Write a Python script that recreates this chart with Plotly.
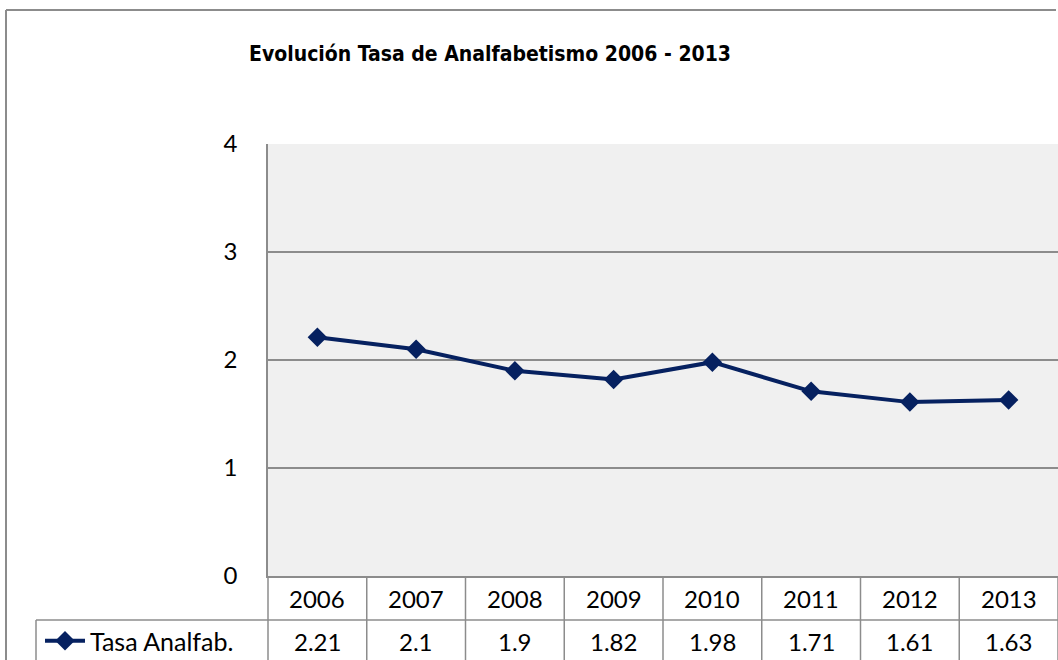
import plotly.graph_objects as go

# ---- data ----
years = ["2006", "2007", "2008", "2009", "2010", "2011", "2012", "2013"]
tasa = [2.21, 2.1, 1.9, 1.82, 1.98, 1.71, 1.61, 1.63]
series_name = "Tasa Analfab."
title_text = "<b>Evolución Tasa de Analfabetismo 2006 - 2013</b>"
y_ticks = [0, 1, 2, 3, 4]

W, H = 1058, 660
M_L, M_R, M_T, M_B = 268, 0, 144, 84
plot_w = W - M_L - M_R
plot_h = H - M_T - M_B

NAVY = "#062160"
GRID = "#8c8c8c"
TXT_FONT = "Lato, 'Open Sans', sans-serif"

def py(px):
    """pixel y (from top of figure) -> paper y"""
    return (H - M_B - px) / plot_h

def px_x(px):
    return (px - M_L) / plot_w

fig = go.Figure()
fig.add_trace(go.Scatter(
    x=years, y=tasa, mode="lines+markers", name=series_name,
    line=dict(color=NAVY, width=4),
    marker=dict(symbol="diamond", size=15, color=NAVY),
    showlegend=True,
))

shapes = []
line_style = dict(color=GRID, width=1.5)
n = len(years)
# table vertical separators
for i in range(n + 1):
    shapes.append(dict(type="line", xref="x domain", yref="paper",
                       x0=i / n, x1=i / n, y0=0, y1=py(H + 10), line=line_style))
# header / value row separator
shapes.append(dict(type="line", xref="paper", yref="paper",
                   x0=px_x(36), x1=1, y0=py(620), y1=py(620), line=line_style))
# legend cell left edge
shapes.append(dict(type="line", xref="paper", yref="paper",
                   x0=px_x(36), x1=px_x(36), y0=py(620), y1=py(H + 10), line=line_style))
# outer chart border
shapes.append(dict(type="line", xref="paper", yref="paper",
                   x0=px_x(6), x1=px_x(6), y0=py(10), y1=py(H + 10),
                   line=dict(color="#8c8c8c", width=2)))
shapes.append(dict(type="line", xref="paper", yref="paper",
                   x0=px_x(6), x1=px_x(1056), y0=py(10), y1=py(10),
                   line=dict(color="#8c8c8c", width=2)))

annotations = []
for i, (yr, v) in enumerate(zip(years, tasa)):
    xc = (i + 0.5) / n
    annotations.append(dict(x=xc, xref="x domain", y=py(598), yref="paper", text=yr,
                            showarrow=False, yanchor="middle", xanchor="center",
                            font=dict(family=TXT_FONT, size=24, color="#000")))
    annotations.append(dict(x=xc, xref="x domain", y=py(641), yref="paper", text=str(v),
                            showarrow=False, yanchor="middle", xanchor="center",
                            font=dict(family=TXT_FONT, size=24, color="#000")))

fig.update_layout(
    width=W, height=H,
    margin=dict(l=M_L, r=M_R, t=M_T, b=M_B, autoexpand=False),
    paper_bgcolor="white",
    plot_bgcolor="#f0f0f0",
    title=dict(text=title_text, x=490 / W, xanchor="center", xref="container",
               y=1 - 54 / H, yanchor="middle", yref="container",
               font=dict(family="'DejaVu Sans Condensed', sans-serif",
                         size=21, color="#000")),
    xaxis=dict(type="category", range=[-0.5, n - 0.5], showticklabels=False,
               showgrid=False, zeroline=False, showline=True, linecolor=GRID,
               linewidth=1.5, ticks=""),
    yaxis=dict(range=[0, 4], tickvals=y_ticks, showgrid=True, gridcolor=GRID,
               gridwidth=1.5, zeroline=False, showline=True, linecolor=GRID,
               linewidth=1.5, ticks="", ticklabelstandoff=24,
               tickfont=dict(family=TXT_FONT, size=24, color="#000")),
    legend=dict(x=px_x(40), xanchor="left", y=py(641), yanchor="middle",
                bgcolor="rgba(0,0,0,0)", borderwidth=0,
                font=dict(family=TXT_FONT, size=25, color="#000"),
                itemwidth=40),
    shapes=shapes,
    annotations=annotations,
)

fig.write_html("out.html", config={"displayModeBar": False},
               post_script="document.body.style.margin='0';document.body.style.overflow='hidden';")
